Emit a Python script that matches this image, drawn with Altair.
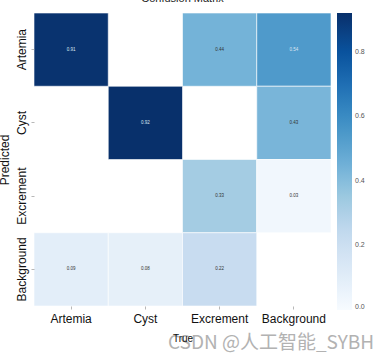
import altair as alt
import pandas as pd

classes = ["Artemia", "Cyst", "Excrement", "Background"]
predicted = ["Artemia", "Artemia", "Artemia", "Cyst", "Cyst", "Excrement", "Excrement", "Background", "Background", "Background"]
true_cls = ["Artemia", "Excrement", "Background", "Cyst", "Background", "Excrement", "Background", "Artemia", "Cyst", "Excrement"]
values = [0.91, 0.44, 0.54, 0.92, 0.43, 0.33, 0.03, 0.09, 0.08, 0.22]

df = pd.DataFrame({"Predicted": predicted, "True": true_cls, "value": values})
df["label"] = df["value"].map(lambda v: f"{v:.2f}")

blues = ["#f7fbff", "#deebf7", "#c6dbef", "#9ecae1", "#6baed6", "#4292c6", "#2171b5", "#08519c", "#08306b"]
vmax = 0.92
stops = [vmax * i / 8 for i in range(9)]

W, H = 297, 293

x_enc = alt.X("True:N", sort=classes, scale=alt.Scale(domain=classes, paddingInner=0, paddingOuter=0),
              axis=alt.Axis(title="True", labelAngle=0, labelFontSize=12, labelColor="#111",
                            titleFontSize=10, titleFontWeight="normal", titleColor="#111",
                            titlePadding=9, domain=False, tickSize=3, tickColor="#888",
                            tickWidth=0.6, labelPadding=4, labelFont="Liberation Sans",
                            titleFont="Liberation Sans"))
y_enc = alt.Y("Predicted:N", sort=classes, scale=alt.Scale(domain=classes, paddingInner=0, paddingOuter=0),
              axis=alt.Axis(title="Predicted", labelAngle=-90, labelFontSize=12, labelColor="#111",
                            labelAlign="center", labelBaseline="bottom",
                            titleFontSize=12, titleFontWeight="normal", titleColor="#111",
                            titlePadding=4, domain=False, tickSize=3, tickColor="#888",
                            tickWidth=0.6, labelPadding=3, labelFont="Liberation Sans",
                            titleFont="Liberation Sans"))

rect = alt.Chart(df).mark_rect(stroke="white", strokeWidth=0.6).encode(
    x=x_enc, y=y_enc,
    color=alt.Color("value:Q", scale=alt.Scale(domain=stops, range=blues),
                    legend=alt.Legend(title=None, orient="none", legendX=W + 6, legendY=0,
                                      gradientLength=H + 4, gradientThickness=15,
                                      values=[0.0, 0.2, 0.4, 0.6, 0.8], format=".1f",
                                      labelFontSize=7, labelColor="#555", tickCount=5,
                                      gradientStrokeWidth=0, labelOffset=3)),
)

text = alt.Chart(df).mark_text(fontSize=4.5, font="Liberation Sans").encode(
    x=alt.X("True:N", sort=classes), y=alt.Y("Predicted:N", sort=classes),
    text="label:N",
    color=alt.condition(alt.datum.value > 0.5, alt.value("#dde6f2"), alt.value("#333333")),
)

wm = alt.Chart(pd.DataFrame({"t": ["CSDN @人工智能_SYBH"]})).mark_text(
    fontSize=19, font="Noto Sans CJK SC", color="#a0a0a0", opacity=0.8, align="left", baseline="middle"
).encode(x=alt.value(134), y=alt.value(330), text="t:N")

chart = (rect + text + wm).properties(
    width=W, height=H,
    title=alt.TitleParams("Confusion Matrix", fontSize=11, fontWeight="normal", color="#222",
                          offset=9, font="Liberation Sans"),
    autosize=alt.AutoSizeParams(type="none"),
    padding={"left": 34, "top": 13, "right": 59, "bottom": 49},
    background="white",
).configure_view(strokeWidth=0)

chart.save("out.html", embed_options={"renderer": "svg", "actions": False})
